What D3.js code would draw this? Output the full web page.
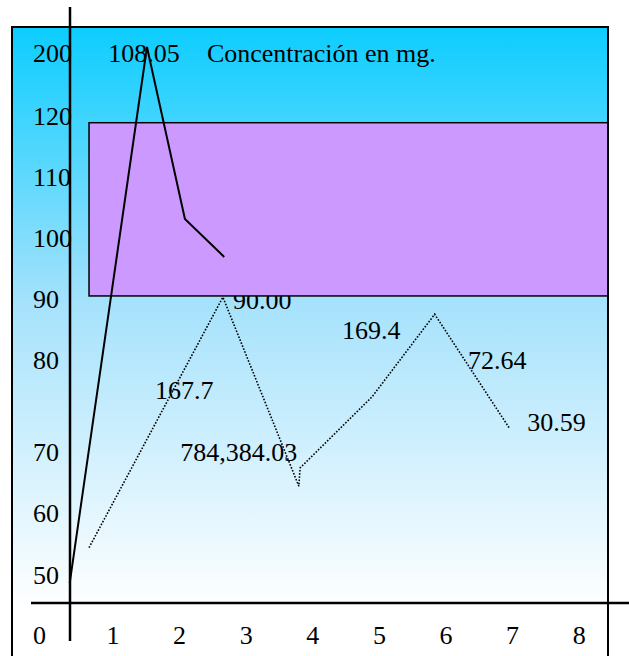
<!DOCTYPE html>
<html>
<head>
<meta charset="utf-8">
<title>Concentración en mg.</title>
<script src="https://cdn.jsdelivr.net/npm/d3@7"></script>
<style>
body { margin: 0; background: #fff; }
</style>
</head>
<body>
<div id="chart"></div>
<script>
// tick labels
var xTicks = [1, 2, 3, 4, 5, 6, 7, 8];
var yTicks = [200, 120, 110, 100, 90, 80, 70, 60, 50, 0];

// solid series (x in category units, y in axis units)
var solidX = [0.35, 1.51, 2.08, 2.67];
var solidY = [43.3, 207.6, 103.1, 96.9];

// dotted series
var dottedX = [0.64, 2.65, 3.79, 3.81, 4.89, 5.83, 6.96];
var dottedY = [54.4, 90.3, 64.4, 67.4, 76.0, 87.5, 72.5];

// value labels
var labelText = ["108.05", "Concentración en mg.", "90.00", "167.7", "784,384.03", "169.4", "72.64", "30.59"];
var labelX = [0.93, 2.41, 2.80, 1.63, 2.01, 4.44, 6.33, 7.22];
var labelY = [200, 200, 89.8, 76.7, 70, 85, 80, 73.3];

// purple band
var bandX = [0.64, 8.43];
var bandY = [118.9, 90.5];

var width = 629, height = 656;

var svg = d3.select("#chart").append("svg")
  .attr("width", width).attr("height", height);

function serif(sel) {
  sel.attr("font-family", "Liberation Serif").attr("font-size", 26);
}

var x = d3.scaleLinear().domain([0, 8]).range([46.4, 579.2]);
// the axis is uneven, so the scale is piecewise
var y = d3.scaleLinear()
  .domain([0, 50, 60, 70, 80, 90, 100, 110, 120, 200])
  .range([635, 575, 513, 452, 360, 299, 238, 177, 116, 53]);

var grad = svg.append("defs").append("linearGradient")
  .attr("id", "bg").attr("x1", 0).attr("y1", 0).attr("x2", 0).attr("y2", 1);
grad.append("stop").attr("offset", "0%").attr("stop-color", "#0ccdff");
grad.append("stop").attr("offset", "42%").attr("stop-color", "#a6e2fc");
grad.append("stop").attr("offset", "88%").attr("stop-color", "#ffffff");

// frame
svg.append("rect")
  .attr("x", 12).attr("y", 27).attr("width", 596).attr("height", 660)
  .attr("fill", "url(#bg)").attr("stroke", "#000").attr("stroke-width", 2);

// y tick labels
svg.selectAll("text.ytick").data(yTicks).enter().append("text")
  .attr("class", "ytick")
  .attr("x", 33).attr("y", function(d) { return y(d); })
  .attr("dy", "0.35em")
  .call(serif)
  .text(function(d) { return d; });

// x tick labels
svg.selectAll("text.xtick").data(xTicks).enter().append("text")
  .attr("class", "xtick")
  .attr("x", function(d) { return x(d); }).attr("y", y(0))
  .attr("dy", "0.35em").attr("text-anchor", "middle")
  .call(serif)
  .text(function(d) { return d; });

// labels (drawn before the band so it covers them)
svg.selectAll("text.lab").data(labelText).enter().append("text")
  .attr("class", "lab")
  .attr("x", function(d, i) { return x(labelX[i]); })
  .attr("y", function(d, i) { return y(labelY[i]); })
  .attr("dy", "0.35em")
  .call(serif)
  .text(function(d) { return d; });

svg.append("rect")
  .attr("x", x(bandX[0])).attr("y", y(bandY[0]))
  .attr("width", x(bandX[1]) - x(bandX[0]))
  .attr("height", y(bandY[1]) - y(bandY[0]))
  .attr("fill", "#cc99ff").attr("stroke", "#000").attr("stroke-width", 1.5);

var line = d3.line()
  .x(function(d) { return x(d[0]); })
  .y(function(d) { return y(d[1]); });

svg.append("path")
  .datum(d3.zip(dottedX, dottedY))
  .attr("d", line)
  .attr("fill", "none").attr("stroke", "#000")
  .attr("stroke-width", 1.6).attr("stroke-dasharray", "1.6,1.6");

svg.append("path")
  .datum(d3.zip(solidX, solidY))
  .attr("d", line)
  .attr("fill", "none").attr("stroke", "#000").attr("stroke-width", 2);

// axes lines
svg.append("line")
  .attr("x1", 31).attr("x2", 629).attr("y1", 603).attr("y2", 603)
  .attr("stroke", "#000").attr("stroke-width", 2.5);
svg.append("line")
  .attr("x1", 70).attr("x2", 70).attr("y1", 7).attr("y2", 641)
  .attr("stroke", "#000").attr("stroke-width", 2.5);
</script>
</body>
</html>
